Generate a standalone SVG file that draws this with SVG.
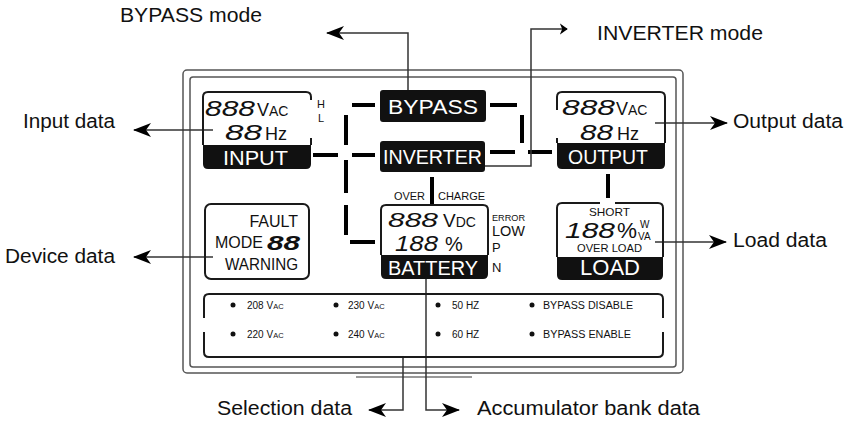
<svg xmlns="http://www.w3.org/2000/svg" width="850" height="422" viewBox="0 0 850 422">
<style>
.lbl{font-family:"Liberation Sans",Arial,sans-serif;font-size:20px;fill:#111}
.lcd{font-family:"Liberation Sans",Arial,sans-serif;fill:#111}
.wt{font-family:"Liberation Sans",Arial,sans-serif;fill:#fff}
.seg{font-family:"Liberation Sans",Arial,sans-serif;fill:#111;font-style:italic}
.bd{fill:none;stroke:#1a1a1a;stroke-width:2}
.band{fill:#111}
.cn{fill:none;stroke:#333;stroke-width:1.5}
.th{fill:none;stroke:#000;stroke-width:4}
.sel{font-family:"Liberation Sans",Arial,sans-serif;font-size:10px;fill:#111}
</style>
<defs>
<marker id="ah" viewBox="0 0 18 14" refX="17" refY="7" markerWidth="18" markerHeight="14" markerUnits="userSpaceOnUse" orient="auto">
<path d="M0,0 L18,7 L0,14 L5,7 Z" fill="#000"/>
</marker>
<marker id="ahs" viewBox="0 0 10 14" refX="9" refY="7" markerWidth="8" markerHeight="14" markerUnits="userSpaceOnUse" orient="auto">
<path d="M0,0 L10,7 L0,14 L3,7 Z" fill="#000"/>
</marker>
</defs>
<rect width="850" height="422" fill="#fff"/>

<g id="frame">
<rect x="183" y="70" width="500" height="303" rx="4" fill="none" stroke="#555" stroke-width="1.5"/>
<rect x="190" y="77" width="486" height="290" rx="3" fill="none" stroke="#555" stroke-width="1.5"/>
<line x1="356" y1="377" x2="472" y2="377" stroke="#999" stroke-width="2"/>
</g>

<g id="connectors">
<g class="th">
<path d="M313,155 H338"/><path d="M352,155 H375"/><path d="M352,105 H375"/>
<path d="M346,115 V145"/><path d="M346,160 V193"/><path d="M346,205 V235"/><path d="M350,242 H375"/>
<path d="M490,105 H517"/><path d="M522,115 V143"/>
<path d="M490,152 H515"/><path d="M528,152 H552"/>
<path d="M432,177 V205"/><path d="M608,174 V198"/>
</g>
<path class="cn" d="M213,130 H134" marker-end="url(#ah)"/>
<path class="cn" d="M213,257 H134" marker-end="url(#ah)"/>
<path class="cn" d="M655,123 H727" marker-end="url(#ah)"/>
<path class="cn" d="M655,242 H726" marker-end="url(#ah)"/>
<path class="cn" d="M403,357 V410 H369" marker-end="url(#ah)"/>
<path class="cn" d="M426,279 V410 H459" marker-end="url(#ah)"/>
<path class="cn" d="M408,90 V33 H327" marker-end="url(#ah)"/>
<path class="cn" d="M485,166 H531 V29 H567" marker-end="url(#ahs)"/>
</g>

<g id="labels">
<text class="lbl" x="120" y="22" textLength="142" lengthAdjust="spacingAndGlyphs">BYPASS mode</text>
<text class="lbl" x="597" y="40" textLength="166" lengthAdjust="spacingAndGlyphs">INVERTER mode</text>
<text class="lbl" x="23" y="128" textLength="92" lengthAdjust="spacingAndGlyphs">Input data</text>
<text class="lbl" x="5" y="263" textLength="110" lengthAdjust="spacingAndGlyphs">Device data</text>
<text class="lbl" x="733" y="128" textLength="110" lengthAdjust="spacingAndGlyphs">Output data</text>
<text class="lbl" x="733" y="247" textLength="94" lengthAdjust="spacingAndGlyphs">Load data</text>
<text class="lbl" x="217" y="415" textLength="135" lengthAdjust="spacingAndGlyphs">Selection data</text>
<text class="lbl" x="477" y="415" textLength="223" lengthAdjust="spacingAndGlyphs">Accumulator bank data</text>
</g>

<g id="input">
<path class="band" d="M203,145 H311 V164 Q311,169 306,169 H208 Q203,169 203,164 Z"/>
<path class="bd" d="M311,100 V97 Q311,92 306,92 H208 Q203,92 203,97 V145 M311,138 V145"/>
<text class="seg" x="205" y="116" font-size="22" textLength="50" lengthAdjust="spacingAndGlyphs">888</text>
<text class="lcd" x="257" y="116"><tspan font-size="18">V</tspan><tspan font-size="14">AC</tspan></text>
<text class="seg" x="225" y="140" font-size="22" textLength="37" lengthAdjust="spacingAndGlyphs">88</text>
<text class="lcd" x="265" y="140" font-size="18">Hz</text>
<text class="wt" x="223" y="165" font-size="21" textLength="65" lengthAdjust="spacingAndGlyphs">INPUT</text>
<text class="lcd" x="317" y="108" font-size="11">H</text>
<text class="lcd" x="318" y="122" font-size="11">L</text>
</g>

<g id="bypass">
<rect x="380" y="90" width="106" height="32" rx="3" fill="#111"/>
<text class="wt" x="388" y="114" font-size="20" textLength="90" lengthAdjust="spacingAndGlyphs">BYPASS</text>
</g>

<g id="inverter">
<rect x="380" y="141" width="105" height="31" rx="3" fill="#111"/>
<text class="wt" x="383" y="164" font-size="20" textLength="99" lengthAdjust="spacingAndGlyphs">INVERTER</text>
</g>

<g id="output">
<path class="band" d="M557,143 H665 V164 Q665,169 660,169 H562 Q557,169 557,164 Z"/>
<path class="bd" d="M557,110 V97 Q557,92 562,92 H660 Q665,92 665,97 V143 M557,138 V143"/>
<text class="seg" x="562" y="115" font-size="22" textLength="53" lengthAdjust="spacingAndGlyphs">888</text>
<text class="lcd" x="616" y="115"><tspan font-size="18">V</tspan><tspan font-size="14">AC</tspan></text>
<text class="seg" x="580" y="140" font-size="22" textLength="33" lengthAdjust="spacingAndGlyphs">88</text>
<text class="lcd" x="617" y="140" font-size="18">Hz</text>
<text class="wt" x="568" y="164" font-size="21" textLength="80" lengthAdjust="spacingAndGlyphs">OUTPUT</text>
</g>

<g id="device">
<rect class="bd" x="205" y="204" width="104" height="75" rx="6"/>
<text class="lcd" x="298" y="227" font-size="16" text-anchor="end">FAULT</text>
<text class="lcd" x="215" y="248" font-size="16">MODE</text>
<text class="seg" x="267" y="250" font-size="21" font-weight="bold" textLength="33" lengthAdjust="spacingAndGlyphs">88</text>
<text class="lcd" x="225" y="270" font-size="16" textLength="73" lengthAdjust="spacingAndGlyphs">WARNING</text>
</g>

<g id="battery">
<path class="band" d="M381,255 H488 V274 Q488,279 483,279 H386 Q381,279 381,274 Z"/>
<path class="bd" d="M381,255 V210 Q381,205 386,205 H483 Q488,205 488,210 V255"/>
<text class="lcd" x="394" y="200" font-size="11" textLength="31" lengthAdjust="spacingAndGlyphs">OVER</text>
<text class="lcd" x="438" y="200" font-size="11" textLength="47" lengthAdjust="spacingAndGlyphs">CHARGE</text>
<text class="seg" x="388" y="227" font-size="21" textLength="50" lengthAdjust="spacingAndGlyphs">888</text>
<text class="lcd" x="443" y="227"><tspan font-size="19">V</tspan><tspan font-size="14">DC</tspan></text>
<text class="seg" x="395" y="251" font-size="22" textLength="43" lengthAdjust="spacingAndGlyphs">188</text>
<text class="lcd" x="445" y="251" font-size="20">%</text>
<text class="wt" x="388" y="275" font-size="20" textLength="90" lengthAdjust="spacingAndGlyphs">BATTERY</text>
<text class="lcd" x="492" y="221" font-size="9" textLength="33" lengthAdjust="spacingAndGlyphs">ERROR</text>
<text class="lcd" x="492" y="236" font-size="14" textLength="33" lengthAdjust="spacingAndGlyphs">LOW</text>
<text class="lcd" x="492" y="252" font-size="13">P</text>
<text class="lcd" x="492" y="272" font-size="13">N</text>
</g>

<g id="load">
<path class="band" d="M557,257 H663 V275 Q663,280 658,280 H562 Q557,280 557,275 Z"/>
<path class="bd" d="M557,257 V208 Q557,203 562,203 H600 M615,203 H658 Q663,203 663,208 V257"/>
<text class="lcd" x="589" y="216" font-size="11" textLength="41" lengthAdjust="spacingAndGlyphs">SHORT</text>
<text class="seg" x="565" y="238" font-size="22" textLength="50" lengthAdjust="spacingAndGlyphs">188</text>
<text class="lcd" x="617" y="238" font-size="22" textLength="20" lengthAdjust="spacingAndGlyphs">%</text>
<text class="lcd" x="640" y="228" font-size="10">W</text>
<text class="lcd" x="638" y="240" font-size="10">VA</text>
<text class="lcd" x="577" y="252" font-size="11" textLength="65" lengthAdjust="spacingAndGlyphs">OVER LOAD</text>
<text class="wt" x="580" y="275" font-size="22" textLength="60" lengthAdjust="spacingAndGlyphs">LOAD</text>
</g>

<g id="selection">
<path class="bd" d="M204,318 V299 Q204,294 209,294 H658 Q663,294 663,299 V318 M204,332 V352 Q204,357 209,357 H658 Q663,357 663,352 V332"/>
<g fill="#111">
<circle cx="233" cy="305" r="2.5"/><circle cx="336" cy="305" r="2.5"/><circle cx="438" cy="305" r="2.5"/><circle cx="532" cy="305" r="2.5"/>
<circle cx="233" cy="334" r="2.5"/><circle cx="336" cy="334" r="2.5"/><circle cx="438" cy="334" r="2.5"/><circle cx="532" cy="334" r="2.5"/>
</g>
<text class="sel" x="247" y="309">208 V<tspan font-size="7.5">AC</tspan></text>
<text class="sel" x="348" y="309">230 V<tspan font-size="7.5">AC</tspan></text>
<text class="sel" x="452" y="309">50 HZ</text>
<text class="sel" x="543" y="309" textLength="90" lengthAdjust="spacingAndGlyphs">BYPASS DISABLE</text>
<text class="sel" x="247" y="338">220 V<tspan font-size="7.5">AC</tspan></text>
<text class="sel" x="348" y="338">240 V<tspan font-size="7.5">AC</tspan></text>
<text class="sel" x="452" y="338">60 HZ</text>
<text class="sel" x="543" y="338" textLength="88" lengthAdjust="spacingAndGlyphs">BYPASS ENABLE</text>
</g>
</svg>
